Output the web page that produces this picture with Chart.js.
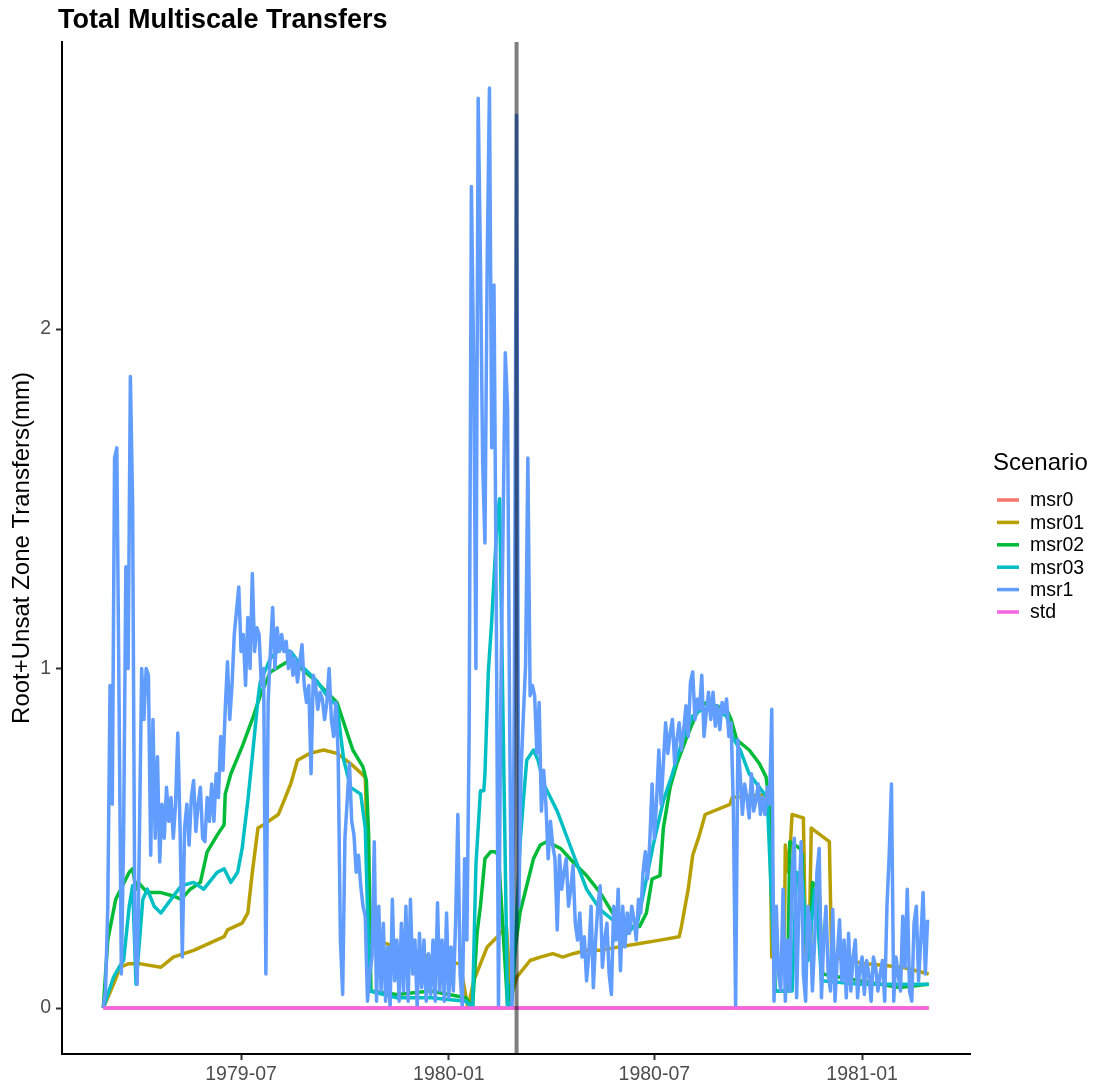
<!DOCTYPE html>
<html>
<head>
<meta charset="utf-8">
<title>Total Multiscale Transfers</title>
<script src="https://cdn.jsdelivr.net/npm/chart.js@4.4.1/dist/chart.umd.min.js"></script>
<style>
  html, body { margin: 0; padding: 0; background: #ffffff; }
  #wrap { width: 1096px; height: 1088px; }
</style>
</head>
<body>
<div id="wrap"><canvas id="c" width="1096" height="1088"></canvas></div>
<script>
// ---- data -------------------------------------------------------------
// All x values are days counted from startDate.
const startDate = '1979-03-01';
const markerDate = '1980-03-01';
const tickLabels = ['1979-07', '1980-01', '1980-07', '1981-01'];
const yTicks = [0, 1, 2];
const scenarios = ['msr0', 'msr01', 'msr02', 'msr03', 'msr1', 'std'];
const colors = ['#F8766D', '#B79F00', '#00BA38', '#00BFC4', '#619CFF', '#F564E3'];

// msr1: one value every msr1Step days
const msr1Step = 2;
const msr1 = [
  0, 0.05, 0.3, 0.95, 0.6, 1.62, 1.65, 0.9, 0.1, 0.5,
  1.3, 1.0, 1.86, 1.48, 0.2, 0.07, 0.5, 1.0, 0.85, 1.0,
  0.98, 0.45, 0.85, 0.5, 0.74, 0.43, 0.6, 0.5, 0.65, 0.55,
  0.62, 0.5, 0.6, 0.81, 0.53, 0.15, 0.53, 0.6, 0.48, 0.62,
  0.67, 0.52, 0.6, 0.65, 0.5, 0.49, 0.62, 0.55, 0.66, 0.55,
  0.69, 0.62, 0.8, 0.7, 0.88, 1.02, 0.85, 0.95, 1.1, 1.17,
  1.24, 1.05, 1.1, 0.95, 1.15, 1.0, 1.28, 1.05, 1.12, 1.1,
  0.95, 1.0, 0.1, 0.9, 1.05, 1.18, 1.0, 1.12, 1.05, 1.1,
  1.05, 1.08, 1.0, 1.05, 0.98, 1.03, 0.96, 1.02, 1.07, 0.95,
  0.9, 0.95, 0.69, 0.98, 0.95, 0.88, 0.93, 0.91, 0.85, 0.9,
  1.0, 0.85, 0.8, 0.9, 0.75, 0.2, 0.04, 0.5, 0.61, 0.72,
  0.55, 0.51, 0.4, 0.45, 0.36, 0.3, 0.27, 0.02, 0.1, 0.15,
  0.49, 0.02, 0.3, 0.05, 0.25, 0.02, 0.18, 0.0, 0.32, 0.08,
  0.2, 0.02, 0.25, 0.05, 0.3, 0.02, 0.32, 0.1, 0.2, 0.0,
  0.22, 0.06, 0.2, 0.02, 0.16, 0.04, 0.2, 0.02, 0.31, 0.05,
  0.2, 0.02, 0.28, 0.03, 0.18, 0.05, 0.25, 0.57, 0.1, 0.0,
  0.44, 0.2, 0.81, 2.42, 1.9, 1.0, 2.68, 2.2, 1.6, 1.37,
  2.2, 2.71, 1.65, 2.13, 1.2, 0.0, 0.9, 1.4, 1.93, 1.77,
  0.8, 0.0, 0.9, 2.63, 0.3, 0.7, 0.86, 1.01, 1.62, 0.92,
  0.95, 0.92, 0.75, 0.9, 0.58, 0.7, 0.6, 0.44, 0.55, 0.48,
  0.44, 0.23, 0.45, 0.35, 0.4, 0.44, 0.3, 0.35, 0.42, 0.25,
  0.2, 0.28, 0.15, 0.21, 0.08, 0.16, 0.3, 0.06, 0.2, 0.3,
  0.36, 0.12, 0.2, 0.25, 0.1, 0.04, 0.3, 0.2, 0.35, 0.11,
  0.3, 0.18, 0.28, 0.22, 0.3, 0.26, 0.2, 0.32, 0.28, 0.40,
  0.46, 0.38, 0.49, 0.66, 0.5, 0.61, 0.76, 0.6, 0.72, 0.84,
  0.75, 0.81, 0.85, 0.72, 0.79, 0.84, 0.76, 0.82, 0.89, 0.8,
  0.96, 0.99, 0.85, 0.91, 0.88, 0.98, 0.8, 0.87, 0.93, 0.85,
  0.93, 0.83, 0.89, 0.82, 0.9, 0.87, 0.91, 0.8, 0.84, 0.59,
  0.0, 0.79, 0.69, 0.57, 0.66, 0.62, 0.56, 0.69, 0.58, 0.61,
  0.66, 0.57, 0.62, 0.57, 0.65, 0.6, 0.88, 0.02, 0.3, 0.1,
  0.05, 0.35, 0.02, 0.2, 0.05, 0.4, 0.5, 0.03, 0.3, 0.49,
  0.1, 0.02, 0.3, 0.25, 0.05, 0.2, 0.4, 0.47, 0.03, 0.2,
  0.3, 0.1, 0.05, 0.29, 0.02, 0.15, 0.26, 0.08, 0.2, 0.03,
  0.22, 0.05, 0.15, 0.2, 0.03, 0.12, 0.15, 0.04, 0.14, 0.1,
  0.02, 0.15, 0.12, 0.05, 0.1, 0.14, 0.02, 0.3, 0.45, 0.66,
  0.02, 0.15, 0.1, 0.05, 0.27, 0.12, 0.35, 0.05, 0.02, 0.25,
  0.3, 0.08, 0.2, 0.34, 0.1, 0.26
];

const msr01Days = [0, 9, 15, 22, 33, 51, 62, 80, 107, 110, 123, 128, 132, 137, 142, 155, 160, 166, 172, 183,
  195, 207, 219, 232, 235, 237, 239, 272, 290, 300, 316, 323, 328, 340, 349, 357, 361, 366, 378, 387,
  398, 407, 416, 428, 440, 457, 475, 493, 510, 512, 518, 522, 528, 533, 555, 557, 590, 592, 603, 604,
  607, 610, 620, 622, 625, 627, 643, 645, 660, 676, 708, 731];
const msr01Vals = [0, 0.07, 0.12, 0.13, 0.13, 0.12, 0.15, 0.17, 0.21, 0.23, 0.25, 0.28, 0.40, 0.53, 0.54, 0.57, 0.61, 0.66, 0.73, 0.75,
  0.76, 0.75, 0.72, 0.68, 0.35, 0.2, 0.20, 0.17, 0.15, 0.14, 0.13, 0.0, 0.08, 0.18, 0.21, 0.24, 0.03, 0.09, 0.14, 0.15,
  0.16, 0.15, 0.16, 0.17, 0.17, 0.18, 0.19, 0.20, 0.21, 0.24, 0.35, 0.45, 0.51, 0.57, 0.60, 0.62, 0.63, 0.15, 0.13, 0.48,
  0.40, 0.57, 0.56, 0.16, 0.16, 0.53, 0.49, 0.15, 0.14, 0.13, 0.12, 0.10];

const msr02Days = [0, 4, 11, 17, 23, 26, 29, 31, 39, 51, 62, 69, 77, 86, 92, 101, 107, 108, 113, 123,
  133, 139, 148, 163, 168, 186, 198, 207, 216, 221, 230, 233, 235, 237, 260, 290, 321, 327, 331, 334,
  338, 343, 347, 350, 358, 362, 365, 369, 375, 381, 387, 393, 405, 416, 428, 440, 451, 464, 475, 481,
  486, 493, 496, 502, 508, 517, 527, 534, 552, 556, 561, 572, 581, 587, 590, 595, 606, 608, 617, 619,
  621, 626, 628, 634, 637, 670, 705, 731];
const msr02Vals = [0, 0.2, 0.32, 0.36, 0.40, 0.41, 0.35, 0.37, 0.34, 0.34, 0.33, 0.32, 0.35, 0.37, 0.46, 0.51, 0.54, 0.63, 0.69, 0.77,
  0.86, 0.92, 0.99, 1.02, 1.02, 0.97, 0.93, 0.90, 0.81, 0.76, 0.71, 0.67, 0.51, 0.05, 0.04, 0.05, 0.03, 0, 0.22, 0.30,
  0.44, 0.46, 0.46, 0.45, 0.01, 0.09, 0.18, 0.28, 0.36, 0.44, 0.48, 0.49, 0.47, 0.43, 0.39, 0.34, 0.28, 0.24, 0.24, 0.28,
  0.38, 0.39, 0.53, 0.65, 0.72, 0.80, 0.88, 0.90, 0.88, 0.85, 0.79, 0.76, 0.72, 0.68, 0.6, 0.05, 0.05, 0.49, 0.47, 0.45,
  0.2, 0.15, 0.37, 0.35, 0.1, 0.08, 0.06, 0.07];

const msr03Days = [0, 9, 14, 18, 23, 26, 29, 35, 39, 45, 51, 60, 69, 80, 89, 101, 107, 113, 119, 123,
  128, 132, 137, 139, 148, 157, 166, 175, 190, 198, 207, 213, 219, 228, 232, 236, 260, 290, 321, 327,
  330, 334, 337, 338, 341, 344, 349, 351, 358, 362, 365, 369, 372, 375, 381, 385, 390, 396, 402, 411,
  420, 428, 440, 451, 464, 473, 481, 487, 496, 504, 513, 522, 530, 540, 552, 557, 564, 572, 581, 588,
  592, 595, 610, 614, 619, 624, 630, 632, 636, 670, 708, 731];
const msr03Vals = [0, 0.09, 0.12, 0.14, 0.30, 0.36, 0.07, 0.32, 0.35, 0.30, 0.28, 0.32, 0.36, 0.37, 0.35, 0.40, 0.41, 0.37, 0.40, 0.47,
  0.61, 0.74, 0.91, 0.96, 1.03, 1.06, 1.05, 1.01, 0.96, 0.92, 0.89, 0.73, 0.65, 0.63, 0.53, 0.05, 0.03, 0.03, 0.02, 0,
  0.42, 0.64, 0.64, 0.69, 0.99, 1.14, 1.45, 1.5, 0, 0.02, 0.2, 0.48, 0.61, 0.73, 0.76, 0.73, 0.66, 0.62, 0.58, 0.50,
  0.42, 0.35, 0.29, 0.26, 0.22, 0.25, 0.38, 0.48, 0.61, 0.69, 0.79, 0.86, 0.88, 0.88, 0.86, 0.80, 0.76, 0.69, 0.65, 0.62,
  0.3, 0.05, 0.05, 0.40, 0.38, 0.14, 0.35, 0.3, 0.08, 0.07, 0.07, 0.07];

const flatDays = [0, 731];
const msr0Vals = [0, 0];
const stdVals = [0, 0];

// ---- helpers ----------------------------------------------------------
const DAY_MS = 86400000;
function dayOf(iso) { return (Date.parse(iso) - Date.parse(startDate)) / DAY_MS; }
function pairs(days, vals) { return days.map((d, i) => ({ x: d, y: vals[i] })); }

const msr1Points = msr1.map((v, i) => ({ x: i * msr1Step, y: v }));
const seriesPoints = [
  pairs(flatDays, msr0Vals),
  pairs(msr01Days, msr01Vals),
  pairs(msr02Days, msr02Vals),
  pairs(msr03Days, msr03Vals),
  msr1Points,
  pairs(flatDays, stdVals)
];

// ggplot-style 5% expansion of the data range
const allX = seriesPoints.flat().map(p => p.x);
const allY = seriesPoints.flat().map(p => p.y);
const xLo = Math.min(...allX), xHi = Math.max(...allX);
const yLo = Math.min(...allY), yHi = Math.max(...allY);
const xPad = (xHi - xLo) * 0.05, yPad = (yHi - yLo) * 0.05;
const tickDays = tickLabels.map(l => dayOf(l + '-01'));

const FONT = "'Liberation Sans', Arial, Helvetica, sans-serif";
Chart.defaults.font.family = FONT;

// datasets are listed in legend order; later groups are painted on top
const datasets = scenarios.map((name, i) => ({
  label: name,
  data: seriesPoints[i],
  borderColor: colors[i],
  backgroundColor: colors[i],
  borderWidth: 3.5,
  borderJoinStyle: 'round',
  borderCapStyle: 'butt',
  pointRadius: 0,
  tension: 0,
  fill: false,
  order: scenarios.length - i
}));

// vertical marker, title and legend
const decorations = {
  id: 'decorations',
  afterDatasetsDraw(chart) {
    const { ctx, chartArea, scales } = chart;
    const x = scales.x.getPixelForValue(dayOf(markerDate));
    ctx.save();
    ctx.strokeStyle = 'rgba(0,0,0,0.5)';
    ctx.lineWidth = 4;
    ctx.beginPath();
    ctx.moveTo(x, chartArea.top);
    ctx.lineTo(x, chartArea.bottom);
    ctx.stroke();
    ctx.restore();
  },
  afterDraw(chart) {
    const { ctx } = chart;
    ctx.save();
    ctx.fillStyle = '#000';
    ctx.textAlign = 'left';
    ctx.textBaseline = 'alphabetic';
    ctx.font = 'bold 27px ' + FONT;
    ctx.fillText('Total Multiscale Transfers', 58, 28);

    ctx.textBaseline = 'middle';
    ctx.font = '24px ' + FONT;
    ctx.fillText('Scenario', 993, 463);
    ctx.font = '19.5px ' + FONT;
    chart.data.datasets.forEach((ds, i) => {
      const y = 500 + i * 22.4;
      ctx.strokeStyle = ds.borderColor;
      ctx.lineWidth = 3.5;
      ctx.beginPath();
      ctx.moveTo(997, y);
      ctx.lineTo(1019, y);
      ctx.stroke();
      ctx.fillStyle = '#000';
      ctx.fillText(ds.label, 1030, y + 1);
    });
    ctx.restore();
  }
};

new Chart(document.getElementById('c'), {
  type: 'line',
  data: { datasets },
  plugins: [decorations],
  options: {
    responsive: false,
    animation: false,
    devicePixelRatio: 1,
    layout: { padding: { top: 42, right: 126, left: 0, bottom: 0 } },
    plugins: {
      legend: { display: false },
      tooltip: { enabled: false },
      title: { display: false }
    },
    scales: {
      x: {
        type: 'linear',
        min: xLo - xPad,
        max: xHi + xPad,
        afterFit(s) { s.height = 34; },
        afterBuildTicks(s) { s.ticks = tickDays.map(v => ({ value: v })); },
        ticks: {
          callback: (v, i) => tickLabels[i],
          font: { size: 19.5 },
          color: '#4d4d4d',
          padding: 3,
          maxRotation: 0,
          autoSkip: false
        },
        grid: { drawOnChartArea: false, drawTicks: true, tickLength: 6, tickColor: '#333333', tickWidth: 2 },
        border: { display: true, color: '#000000', width: 2 }
      },
      y: {
        type: 'linear',
        min: yLo - yPad,
        max: yHi + yPad,
        afterFit(s) { s.width = 62; },
        afterBuildTicks(s) { s.ticks = yTicks.map(v => ({ value: v })); },
        ticks: {
          callback: v => String(v),
          font: { size: 19.5 },
          color: '#4d4d4d',
          padding: 5
        },
        title: {
          display: true,
          text: 'Root+Unsat Zone Transfers(mm)',
          font: { size: 24 },
          color: '#000000',
          padding: { top: 8, bottom: 0 }
        },
        grid: { drawOnChartArea: false, drawTicks: true, tickLength: 6, tickColor: '#333333', tickWidth: 2 },
        border: { display: true, color: '#000000', width: 2 }
      }
    }
  }
});
</script>
</body>
</html>
